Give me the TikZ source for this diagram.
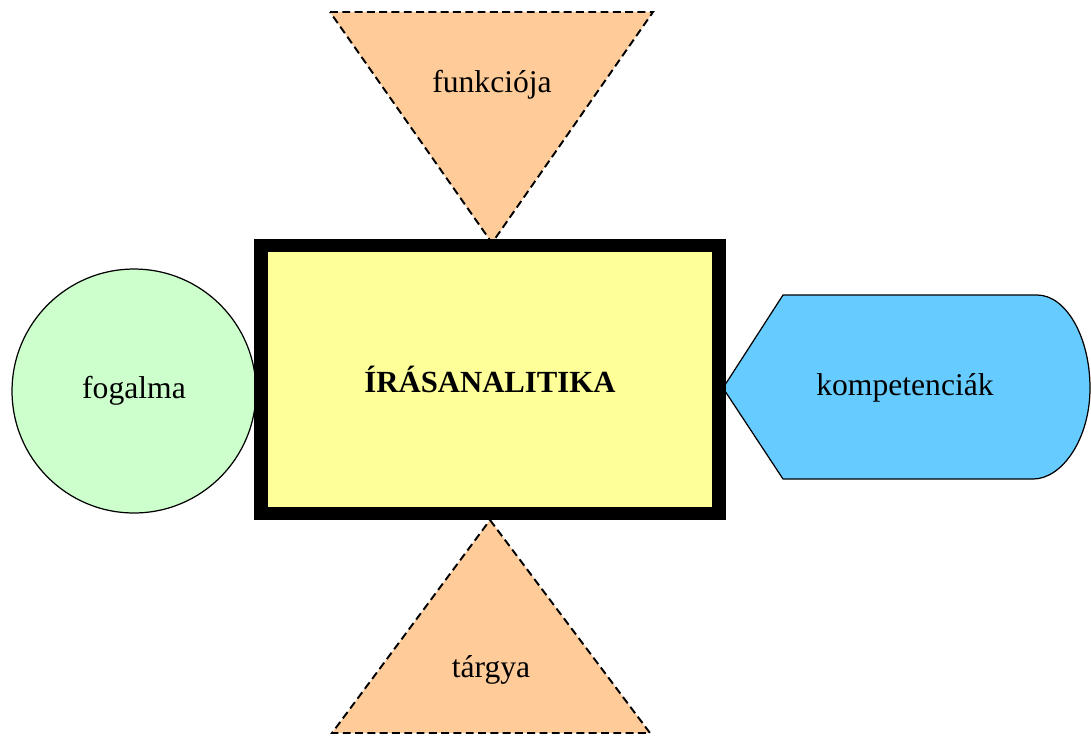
\documentclass[tikz,border=0pt]{standalone}
\usepackage{fontspec}
\setmainfont{Liberation Serif}
\usetikzlibrary{positioning}

\definecolor{peach}{HTML}{FFCC99}
\definecolor{mint}{HTML}{CCFFCC}
\definecolor{lemon}{HTML}{FFFF99}
\definecolor{sky}{HTML}{66CCFF}

\begin{document}
\begin{tikzpicture}[x=0.02cm, y=-0.02cm, font=\fontsize{18}{21}\selectfont,
    tri/.style={draw, fill=peach, line width=1.1pt, dash pattern=on 4.5pt off 2.5pt},
    blob/.style={draw, fill=#1, line width=0.7pt},
    label/.style={inner sep=0pt}]
    \useasboundingbox (0,0) rectangle (1091,735);

    % top and bottom triangles
    \draw[tri] (330,12) -- (653,12) -- (492,243) -- cycle;
    \node[label] (funk) at (492,85) {funkciója};
    \draw[tri] (490,520) -- (650,733) -- (332,733) -- cycle;
    \node[label] (targy) at (491,670) {tárgya};

    % left circle
    \node[blob=mint, circle, minimum size=4.88cm] (fog) at (134,391) {fogalma};

    % right display shape
    \draw[blob=sky] (723,388) -- (783,295) -- (1037,295)
        .. controls (1066,295) and (1090,337) .. (1090,388)
        .. controls (1090,439) and (1062,479) .. (1033,479)
        -- (783,479) -- cycle;
    \node[label] (komp) at (905,388) {kompetenciák};

    % centre box
    \node[draw, fill=lemon, line width=7.9pt, minimum width=9.15cm, minimum height=5.36cm,
        font=\fontsize{17.5}{21}\selectfont\bfseries] (iras) at (490,379.5) {ÍRÁSANALITIKA};
\end{tikzpicture}
\end{document}
